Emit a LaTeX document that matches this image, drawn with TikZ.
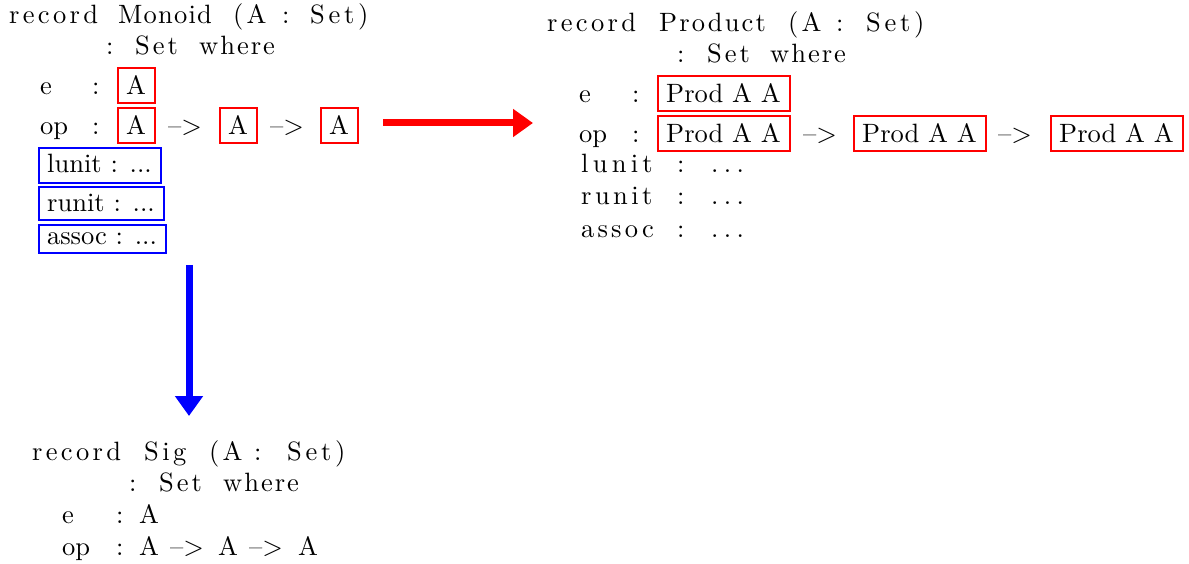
\documentclass[tikz,border=0pt]{standalone}
\usepackage{fontspec}
\setmainfont{lmroman10-regular}[Extension=.otf]
\usetikzlibrary{arrows.meta}
\definecolor{boxred}{RGB}{255,0,0}
\definecolor{boxblue}{RGB}{0,0,255}
\tikzset{
  txt/.style={inner sep=0pt, anchor=base west, font=\fontsize{26.5}{32}\selectfont},
  ls/.style={inner sep=0pt, anchor=base west, font=\fontsize{26.5}{32}\selectfont\addfontfeature{LetterSpace=#1}},
  ls/.default=12,
  anybox/.style={outer sep=0pt, inner xsep=0pt, inner ysep=8.5pt,
     anchor=base, font=\fontsize{26.5}{32}\selectfont},
  redbox/.style={anybox, text height=18pt, text depth=0pt, minimum width=#1},
  bluebox/.style={anybox, minimum width=#1},
  frame/.style={line width=2pt},
  bigarrow/.style={line width=7pt, -{Triangle[width=27pt,length=20pt]}}
}
\begin{document}
\begin{tikzpicture}[x=1pt,y=-1pt]
\useasboundingbox (0,0) rectangle (1189,564);
% ---------- Monoid ----------
\node[ls=12.5] (mt1) at (9,24) {record};
\node[ls=4.5] (mt2) at (118,24) {Monoid};
\node[ls] (mt3) at (233,24) {(A};
\node[ls] (mt4) at (282,24) {:};
\node[ls=14] (mt5) at (310,24) {Set)};
\node[ls] (mw1) at (106,55) {:};
\node[ls=11] (mw2) at (135,55) {Set};
\node[ls=7.5] (mw3) at (199,55) {where};
\node[txt] (me) at (40,95) {e};
\node[txt] (mec) at (92,95) {:};
\node[redbox=37pt] (meA) at (136,95) {A};
\node[txt] (mop) at (40,135) {op};
\node[txt] (mopc) at (92,135) {:};
\node[redbox=37pt] (mA1) at (136,135) {A};
\node[txt] (mar1) at (168,135) {-->};
\node[redbox=37pt] (mA2) at (238,135) {A};
\node[txt] (mar2) at (270,135) {-->};
\node[redbox=37pt] (mA3) at (339,135) {A};
\node[bluebox=122pt, text height=16pt, text depth=2pt] (mlunit) at (99.5,173) {lunit : ...};
\node[bluebox=125pt, text height=16pt, text depth=0pt] (mrunit) at (101,212) {runit : ...};
\node[bluebox=127pt, text height=11pt, text depth=0pt] (massoc) at (102,245) {assoc : ...};
% ---------- Product ----------
\node[ls=12.5] (pt1) at (547,31.5) {record};
\node[ls=8] (pt2) at (659,31.5) {Product};
\node[ls] (pt3) at (788,31.5) {(A};
\node[ls] (pt4) at (836,31.5) {:};
\node[ls=14] (pt5) at (866,31.5) {Set)};
\node[ls] (pw1) at (677,63) {:};
\node[ls=11] (pw2) at (707,63) {Set};
\node[ls=7.5] (pw3) at (770,63) {where};
\node[txt] (pe) at (579,103) {e};
\node[txt] (pec) at (632,103) {:};
\node[redbox=132pt] (peP) at (723.5,103) {Prod A A};
\node[txt] (pop) at (579,143) {op};
\node[txt] (popc) at (632,143) {:};
\node[redbox=132pt] (pP1) at (723.5,143) {Prod A A};
\node[txt] (par1) at (803,143) {-->};
\node[redbox=132pt] (pP2) at (919.5,143) {Prod A A};
\node[txt] (par2) at (998,143) {-->};
\node[redbox=132pt] (pP3) at (1116.5,143) {Prod A A};
\node[ls=16] (plunit) at (581,173) {lunit};
\node[ls] (plunitc) at (677,173) {:};
\node[ls=20] (plunitd) at (711,173) {...};
\node[ls=13] (prunit) at (581,205) {runit};
\node[ls] (prunitc) at (677,205) {:};
\node[ls=20] (prunitd) at (711,205) {...};
\node[ls=12] (passoc) at (581,237) {assoc};
\node[ls] (passocc) at (677,237) {:};
\node[ls=20] (passocd) at (711,237) {...};
% ---------- Sig ----------
\node[ls=12.5] (st1) at (32,460) {record};
\node[ls=13] (st2) at (144,460) {Sig};
\node[ls] (st3) at (209,460) {(A};
\node[ls] (st4) at (254,460) {:};
\node[ls=14] (st5) at (287,460) {Set)};
\node[ls] (sw1) at (129,491) {:};
\node[ls=11] (sw2) at (159,491) {Set};
\node[ls=7.5] (sw3) at (223,491) {where};
\node[txt] (se) at (62,523) {e};
\node[txt] (sec) at (116,523) {:};
\node[txt] (seA) at (139,523) {A};
\node[txt] (sop) at (62,555) {op};
\node[txt] (sopc) at (116,555) {:};
\node[txt] (sA1) at (139,555) {A};
\node[txt] (sar1) at (170,555) {-->};
\node[txt] (sA2) at (218,555) {A};
\node[txt] (sar2) at (249,555) {-->};
\node[txt] (sA3) at (298,555) {A};
% ---------- frames ----------
\foreach \n in {meA,mA1,mA2,mA3,peP,pP1,pP2,pP3}
  \draw[frame, boxred] (\n.south west) rectangle (\n.north east);
\foreach \n in {mlunit,mrunit,massoc}
  \draw[frame, boxblue] (\n.south west) rectangle (\n.north east);
% ---------- arrows ----------
\coordinate (rs) at (383,123);
\coordinate (re) at (533,123);
\coordinate (bs) at (189,265);
\coordinate (be) at (189,416);
\draw[bigarrow, red] (rs) -- (re);
\draw[bigarrow, blue] (bs) -- (be);
\end{tikzpicture}
\end{document}
